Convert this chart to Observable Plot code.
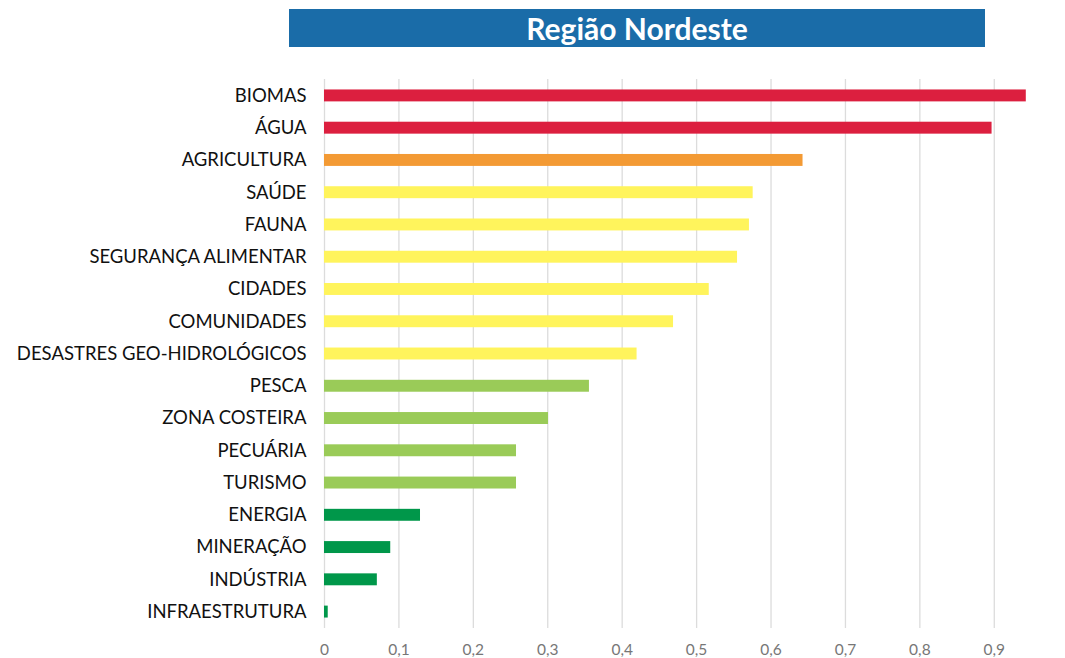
<!DOCTYPE html>
<html>
<head>
<meta charset="utf-8">
<script src="https://cdn.jsdelivr.net/npm/d3@7"></script>
<script src="https://cdn.jsdelivr.net/npm/@observablehq/plot@0.6"></script>
<style>
  html, body { margin: 0; padding: 0; background: #fff; }
  #wrap { position: relative; width: 1065px; height: 658px; }
  #title {
    position: absolute; left: 289px; top: 9px; width: 696px; height: 38px;
    background: #1a6ca8; color: #fff; font-family: Lato, "Open Sans", sans-serif;
    font-weight: 700; font-size: 30px; line-height: 38px; text-align: center;
  }
  #chart { position: absolute; left: 0; top: 0; }
</style>
</head>
<body>
<div id="wrap">
  <div id="chart"></div>
  <div id="title">Região Nordeste</div>
</div>
<script>
const categories = ["BIOMAS", "ÁGUA", "AGRICULTURA", "SAÚDE", "FAUNA", "SEGURANÇA ALIMENTAR", "CIDADES", "COMUNIDADES", "DESASTRES GEO-HIDROLÓGICOS", "PESCA", "ZONA COSTEIRA", "PECUÁRIA", "TURISMO", "ENERGIA", "MINERAÇÃO", "INDÚSTRIA", "INFRAESTRUTURA"];
const values = [0.943, 0.897, 0.643, 0.576, 0.571, 0.555, 0.517, 0.469, 0.420, 0.356, 0.301, 0.258, 0.258, 0.129, 0.089, 0.071, 0.005];
const levels = ["muito alto", "muito alto", "alto", "médio", "médio", "médio", "médio", "médio", "médio", "baixo", "baixo", "baixo", "baixo", "muito baixo", "muito baixo", "muito baixo", "muito baixo"];
const levelNames = ["muito alto", "alto", "médio", "baixo", "muito baixo"];
const levelColors = ["#dc1f3f", "#f39a34", "#fff45c", "#9acb58", "#00974a"];
const xTicks = [0, 0.1, 0.2, 0.3, 0.4, 0.5, 0.6, 0.7, 0.8, 0.9];

const data = categories.map((c, i) => ({category: c, value: values[i], level: levels[i]}));

const chart = Plot.plot({
  width: 1065,
  height: 658,
  marginLeft: 324,
  marginRight: 34,
  marginTop: 79,
  marginBottom: 30,
  style: {fontFamily: "Lato, 'Open Sans', sans-serif", background: "#fff"},
  x: {domain: [0, 0.95], axis: null},
  y: {domain: categories, paddingInner: 0.63, paddingOuter: 0.324, round: false, axis: null},
  color: {domain: levelNames, range: levelColors},
  marks: [
    Plot.ruleX(xTicks, {stroke: "#dcdcdc", strokeWidth: 1.3}),
    Plot.barX(data, {x: "value", y: "category", fill: "level"}),
    Plot.axisY({tickSize: 0, tickPadding: 18, fontSize: 18.5, fill: "#111", label: null}),
    Plot.axisX({ticks: xTicks, tickSize: 0, tickPadding: 15, fontSize: 15.5, fill: "#777", label: null,
      tickFormat: d => d3.format(".1f")(d).replace(".", ",").replace(/^0,0$/, "0")})
  ]
});
document.getElementById("chart").appendChild(chart);
</script>
</body>
</html>
